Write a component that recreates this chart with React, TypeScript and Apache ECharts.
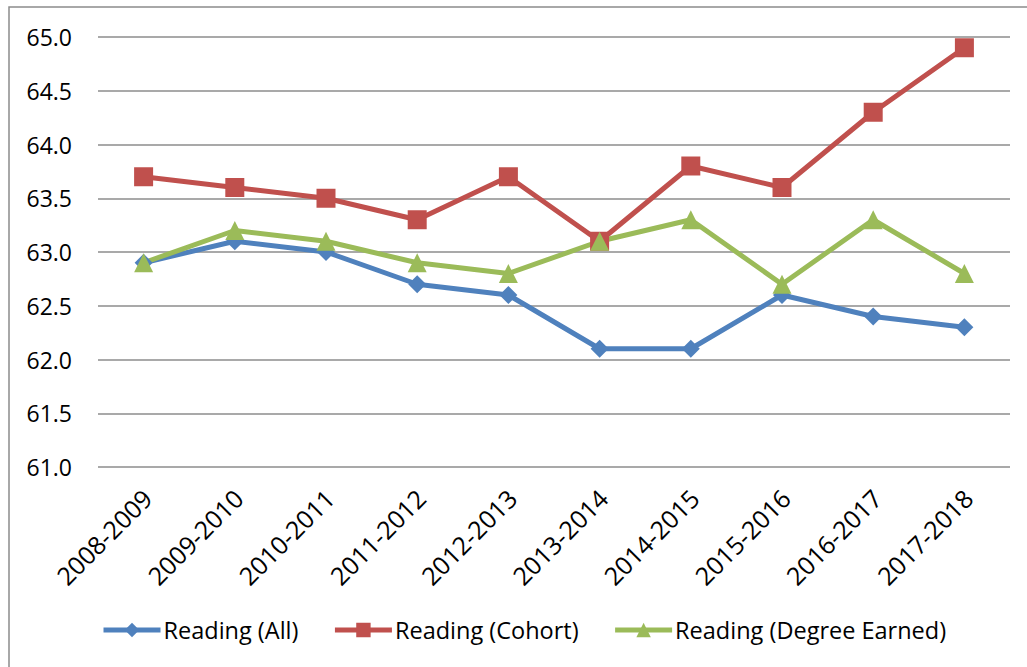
import React, { useEffect, useRef } from "react";
import * as echarts from "echarts";

const categories = ["2008-2009", "2009-2010", "2010-2011", "2011-2012", "2012-2013", "2013-2014", "2014-2015", "2015-2016", "2016-2017", "2017-2018"];
const readingAll = [62.9, 63.1, 63.0, 62.7, 62.6, 62.1, 62.1, 62.6, 62.4, 62.3];
const readingCohort = [63.7, 63.6, 63.5, 63.3, 63.7, 63.1, 63.8, 63.6, 64.3, 64.9];
const readingDegree = [62.9, 63.2, 63.1, 62.9, 62.8, 63.1, 63.3, 62.7, 63.3, 62.8];

const FONT = "Open Sans";

export default function App() {
  const ref = useRef<HTMLDivElement>(null);
  useEffect(() => {
    if (!ref.current) return;
    const chart = echarts.init(ref.current, null, { renderer: "svg" });
    const mk = (name: string, data: number[], color: string, symbol: string, size: number) => ({
      name,
      type: "line",
      data,
      symbol,
      symbolSize: size,
      showAllSymbol: true,
      lineStyle: { color, width: 5 },
      itemStyle: { color },
    });
    chart.setOption({
      animation: false,
      backgroundColor: "#ffffff",
      textStyle: { fontFamily: FONT },
      graphic: [
        {
          type: "rect",
          shape: { x: 9, y: 7, width: 1040, height: 700 },
          style: { fill: "none", stroke: "#8c8c8c", lineWidth: 1.5 },
          silent: true,
        },
      ],
      grid: { left: 98, right: 17, top: 37, bottom: 200, containLabel: false },
      legend: {
        left: 96,
        top: 613,
        itemWidth: 57,
        itemHeight: 18,
        itemGap: 34,
        lineStyle: { width: 5 },
        textStyle: { fontFamily: FONT, fontSize: 23.5, color: "#000", padding: [0, 0, 0, -2] },
        data: ["Reading (All)", "Reading (Cohort)", "Reading (Degree Earned)"],
      },
      xAxis: {
        type: "category",
        data: categories,
        boundaryGap: true,
        axisLine: { show: false },
        axisTick: { show: false },
        axisLabel: { rotate: 45, fontSize: 25, color: "#000", fontFamily: FONT, margin: 30, interval: 0, padding: [0, -5, 0, 0] },
      },
      yAxis: {
        type: "value",
        min: 61,
        max: 65,
        interval: 0.5,
        axisLine: { show: false },
        axisTick: { show: false },
        axisLabel: { fontSize: 23, color: "#000", fontFamily: FONT, margin: 26, formatter: (v: number) => v.toFixed(1) },
        splitLine: { lineStyle: { color: "#8c8c8c", width: 1.5 } },
      },
      series: [
        mk("Reading (All)", readingAll, "#4F81BD", "diamond", 18),
        mk("Reading (Cohort)", readingCohort, "#C0504D", "rect", 19),
        mk("Reading (Degree Earned)", readingDegree, "#9BBB59", "triangle", 19),
      ],
    });
    return () => chart.dispose();
  }, []);
  return <div ref={ref} style={{ position: "absolute", left: 0, top: 0, width: 1027, height: 667 }} />;
}
